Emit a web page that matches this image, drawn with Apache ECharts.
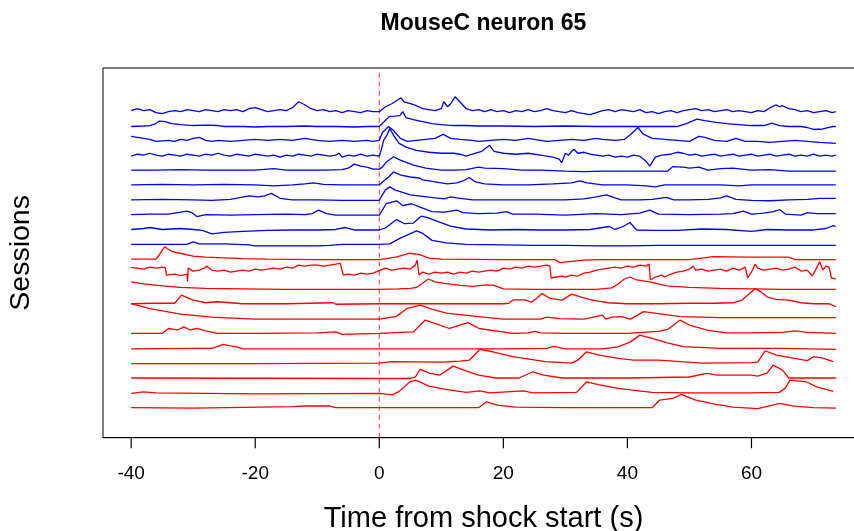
<!DOCTYPE html>
<html><head><meta charset="utf-8">
<script src="https://cdn.jsdelivr.net/npm/echarts@6/dist/echarts.min.js"></script>
<style>html,body{margin:0;padding:0;background:#fff}#c{width:854px;height:531px}</style>
</head><body><div id="c"></div>
<script>
// Tick labels on the time axis
const tickValues = [-40, -20, 0, 20, 40, 60];
const shockTime = 0;
const xMin = -44.54, xMax = 78.14;
const yMin = 0, yMax = 373.4;
const bottomBaseline = 30.3;

// Sessions (top to bottom). Each point: [time (s), activity above session baseline]
const blue01 = [[-40,0],[-39,2],[-38,0],[-37,1],[-36,-2],[-35,-3],[-34,-1],[-33,0],[-32,-1],[-31,1],[-30,0],[-29,-1],[-28,1],[-27,0],[-26,-1],[-25,1],[-24,0],[-23,1],[-22,-1],[-21,2],[-20,3],[-19,1],[-18,-1],[-17,0],[-16,1],[-15,0],[-14,3],[-13,9],[-12,6],[-11,2],[-10,0],[-9,1],[-8,-1],[-7,0],[-6,-2],[-5,0],[-4,-1],[-3,-2],[-2,0],[-1,-1],[0,-1],[1,4],[2,7],[3,11],[3.5,13],[4,9],[5,7],[6,5],[7,2],[8,1],[9,0],[10,2],[10.4,9],[11,4],[11.5,7],[12.2,14],[13,9],[14,2],[15,0],[16,1],[17,-1],[18,1],[19,-1],[20,0],[21,-2],[22,0],[23,-1],[24,1],[25,-1],[26,0],[27,2],[28,0],[29,-1],[30,-2],[31,0],[32,-2],[33,-3],[34,-4],[35,-2],[36,0],[37,1],[38,-1],[39,1],[40,0],[41,-1],[42,1],[43,-2],[44,-1],[45,-3],[46,-1],[47,0],[48,-2],[49,0],[50,1],[51,2],[52,0],[53,1],[54,-1],[55,0],[56,1],[57,-1],[58,0],[59,-1],[60,-2],[61,0],[62,-1],[63,3],[64,6],[64.5,4],[65,5],[66,2],[67,1],[68,-1],[69,0],[70,-2],[71,-1],[72,0],[73,-2],[73.6,-1]];
const blue02 = [[-40,-1],[-38,-0.5],[-37,0],[-36,2],[-35.5,4.5],[-34.5,4],[-33.5,2],[-32,1],[-30,0],[-28,0.5],[-26,0],[-25,-1],[-22,-1],[-20,-1.5],[-18,-1],[-15,-1],[-12,-0.5],[-10,-1],[-7,-1],[-4,-1.5],[-2,-1],[0,-1],[0.8,4],[1.6,9],[2.5,9.5],[3.3,10],[3.8,14],[4.3,8],[5.5,6],[7,4],[8.5,2],[10,1],[12,0],[14,0],[16,-0.5],[20,-0.5],[25,-1],[30,-0.5],[35,-1],[40,-1],[45,-1],[48,-1],[49.5,2],[51.2,6.5],[52.5,5],[54,3.5],[56,2],[58,1],[60,0],[62,0],[63.3,2.5],[64.5,0],[66,-1],[68,-1],[69,-2],[70,-4],[71.5,-3.5],[73,-1],[73.6,-1]];
const blue03 = [[-40,4],[-39,3],[-38,2],[-37,1],[-36,-1],[-34,0],[-33,-1],[-32,1],[-31,0],[-30,2],[-29,3],[-28,0],[-27,-1],[-26,0],[-24,-1],[-22,0],[-20,1],[-18,0],[-16,1],[-14,0],[-12,2],[-11,1],[-10,0],[-8,-1],[-6,0],[-4,-1],[-2,0],[-1,-1],[0,0],[0.5,8],[1.5,14],[2.3,10],[3.4,2],[4.5,-1],[6,0],[7.5,1],[9,2],[10.3,6],[11.5,2],[13,1],[15,0],[16,-1],[18,0],[20,1],[22,0],[24,2],[25,1],[27,-1],[29,0],[31,1],[33,0],[35,2],[36,1],[38,0],[39.5,1],[40.5,6],[41.7,13],[42.5,6.5],[44,2],[46,1],[48,0],[50,-1],[51.5,4],[52.5,3],[54,0],[56,-1],[57.5,2],[59,-1],[61,-1],[63,-2],[65,-1],[67,0],[69,-1],[71,-2],[73.6,-3]];
const blue04 = [[-40,-1],[-39,1],[-38,0],[-37,2],[-36,0],[-35,-1],[-34,1],[-33,0],[-32,-1],[-31,1],[-30,0],[-29,-1],[-28,1],[-27,0],[-26,2],[-25,0],[-24,-1],[-23,1],[-22,0],[-21,-1],[-20,1],[-19,0],[-18,-1],[-17,0],[-16,-2],[-15,0],[-14,-1],[-13,1],[-12,0],[-11,-1],[-10,1],[-9,0],[-8,-1],[-7,0],[-6.5,2],[-6,-2],[-5,0],[-4,-1],[-3,1],[-2,-1],[-1,0],[0,-1],[0.3,5],[0.7,15],[1.2,20],[1.7,27],[2.3,20],[3.2,12],[4.4,8],[6,5],[8,3],[10,2],[12,2],[13,1],[14,-1],[15,1],[16.5,4],[17.8,10],[18.5,4],[20,2],[22,1],[24,2],[26,0],[27,-1],[28,-2],[29,-4],[29.4,-7.5],[30,2],[30.5,0],[31,4],[31.4,6],[32,2],[33,3],[34,1],[35,0],[36,-1],[37,0],[38,-2],[39,-1],[40,-2],[41,0],[42,-1],[43,-6],[43.6,-11],[44.5,-2],[45.5,0],[47,1],[48,3],[49,2],[50,0],[51,1],[52,-1],[53,0],[54,1],[55,-1],[56,0],[57,1],[58,-1],[59,0],[60,1],[61,-1],[62,0],[63,1],[64,-1],[65,0],[66,1],[67,-1],[68,0],[69,-1],[70,1],[71,-1],[72,0],[73,-1],[73.6,0]];
const blue05 = [[-40,0],[-36,0],[-32,0.5],[-28,0],[-24,0],[-20,0],[-18,1],[-17,1.5],[-15,0],[-12,0],[-9,0],[-6,0.5],[-5,2],[-4,6],[-3,4],[-2,3],[-1,1],[0,1],[0.5,3],[1.1,8],[2.3,13.5],[3.4,10],[5.5,5],[7.5,2],[10,0],[12,0],[14,0.5],[16,3],[17,2],[20,1.5],[23,0],[26,0],[30,-1],[33,-1.5],[36,-1],[38,-1],[42,-1],[45,-1],[46.5,-1],[47.3,3.5],[49,3],[50,2],[51.5,3],[53,0],[55,1.5],[57,2],[60,0],[63,0.5],[66,-1],[70,-1],[73.6,-1]];
const blue06 = [[-40,0],[-35,0.5],[-30,0],[-25,0.5],[-20,0],[-17,-1],[-14,0],[-12,1],[-10.6,2],[-9,0.5],[-6,0],[-3,0],[-1,0],[0,0],[0.7,4],[1.5,8],[2.3,13],[3.5,10],[5,8],[6.5,7],[7,5],[9,3],[11,1],[12.5,2],[13.5,4],[14.5,7.5],[15.5,3],[17,1],[20,0],[24,0],[28,1],[31,2],[32.3,4],[33.5,2],[36,0],[40,0],[43,-1],[44.5,-2],[46,0],[50,0],[55,0],[58,-1],[60,0],[65,0],[70,0],[73.6,0]];
const blue07 = [[-40,0],[-35,0.5],[-30,0],[-27,-0.5],[-24,0.5],[-21,4],[-19.5,3],[-18.5,4],[-17.4,6.5],[-16,1.5],[-14,0],[-10,0],[-6,-0.5],[-2,-0.5],[0,-0.5],[0.5,5],[1,10],[1.7,13],[2.5,10],[3.5,8],[5,5],[7,3.5],[9,2],[10.5,1],[11.5,3],[12.5,2],[15,0],[20,0],[25,0],[30,0],[33,1],[35,3],[36.6,5],[38,2],[39,0],[42,0],[44,0.5],[46.3,2.5],[47.5,0],[50,0],[53,0.5],[55,2],[56,4],[57.5,0.5],[60,-0.5],[63,-1],[66,0],[69,0.5],[71,1.5],[73.6,1.5]];
const blue08 = [[-40,0],[-37,0.5],[-34,0.5],[-31,3.5],[-30.2,2],[-29.4,-2],[-28,0],[-24,-0.5],[-20,0],[-15,0.5],[-12,0],[-10.8,1],[-9.8,4.5],[-8.5,1],[-7,-0.5],[-3,-0.5],[0,-0.5],[0.5,4.5],[1.1,11],[2.8,14],[3.8,9],[5.2,11],[7,6.5],[8.5,3],[10.5,2.5],[12.5,4.5],[13.5,2],[16,1],[19,1.5],[20.5,3],[21.5,0.5],[25,0.5],[30,-0.5],[35,1],[39,0],[42,1.5],[43.6,4.5],[45,0.5],[50,0],[55,0.5],[57,1],[58.7,3.5],[60,0.5],[62,1.5],[63.5,3],[64.6,5],[65.5,0.5],[68,-0.5],[69,2],[70.5,1],[73.6,1]];
const blue09 = [[-40,0],[-38,1],[-37,2],[-35,0],[-32,1],[-30,0],[-28.5,-1],[-27,-4.5],[-25,-3],[-22,-2],[-18,-1],[-14,-0.5],[-10,-0.5],[-7,0],[-5.5,2],[-4,-0.5],[0,-0.5],[1,1.5],[1.5,4],[2.8,10],[4,6],[5.5,6.5],[6.8,13.5],[7.8,12],[9.5,8],[11.5,3.5],[14,0.5],[18,-0.5],[22,0],[26,-0.5],[30,-0.5],[34,0],[36,2],[37.1,3],[38,0],[39.3,3],[40.4,7],[41.5,-0.5],[44,-1],[48,-1],[52,0.5],[56,0],[60,-2],[62.5,0],[66,-0.5],[70,-0.5],[72,1],[73.2,4],[73.6,3]];
const blue10 = [[-40,0],[-35,0],[-31,0],[-30,2.5],[-29,0.5],[-25,0.5],[-21,-0.5],[-20,-1.5],[-15,-1.5],[-10,-1.5],[-8,-1],[-6,0],[-3,0],[0,0],[1.7,0.5],[3.3,6],[6,13.5],[7,11],[8.5,4],[10.8,1.5],[14,0],[20,-0.5],[25,-1],[30,-1],[35,-1.5],[40,-1.5],[45,-1],[50,-1],[55,-1],[60,-1],[65,-1],[70,-1],[73.6,-1]];
const red01 = [[-40,0],[-36,0],[-35.5,4],[-34.6,12.5],[-33.5,8],[-32.5,6.5],[-30,3],[-28,2],[-26,1.5],[-22,0.5],[-18,0],[-10,-0.5],[0,-0.5],[2.7,2],[4.9,6],[6.5,4.5],[8,1],[10,0],[20,-0.5],[28.3,-0.5],[29.1,-3.5],[33,-1],[36,-0.5],[40,-0.5],[50,-0.5],[52,1],[53.8,2.5],[60,2],[66,2],[67,-0.5],[73.6,-0.5]];
const red02 = [[-40,6.7],[-38,5],[-37,7],[-36,6],[-35,7],[-34.5,6.5],[-34.3,-1],[-33,0],[-32,-1.5],[-31,0],[-30.9,-7.5],[-30.8,6],[-30,3],[-29,4],[-28.2,6],[-27.8,8],[-27,4],[-26,3],[-25,4],[-24,2],[-23,3],[-22,4],[-21,3],[-20,5],[-19,4],[-18,5],[-17,6],[-16,5],[-15,7],[-14,6],[-13,9],[-12,8],[-11,9],[-10,9],[-9,8],[-8,9],[-7,10],[-6.3,10.7],[-5.8,-1],[-5,0],[-4,-1],[-3,1],[-2,0],[-1,1],[0,3.5],[1,6],[2,4],[3,5],[4,6],[5,5],[5.8,9],[6.1,14],[6.4,-1],[7,2],[8,0],[9,2],[10,1],[11,2],[12,0],[13,2],[14,1],[15,3],[16,2],[17,3],[18,4],[19,3],[20,6],[21,5],[22,7],[23,6],[24,8],[25,7],[26,8],[27,9],[27.5,8],[27.7,-4],[28.5,-3],[29.5,-2],[30,-3],[31,-1],[32,-2],[33,1],[34,2],[35,4],[36,5],[37,6],[38,7],[39,6],[40,8],[41,7],[42,9],[43,8],[43.5,10],[43.7,-6],[44.5,-3],[45.5,-1],[46,-3],[47,0],[48,2],[49,3],[50,5],[50.6,8],[51,4],[52,5],[53,3],[54,4],[55,5],[56,3],[57,6],[58,4],[59,7],[59.2,8],[59.4,-4],[60,2],[60.6,10],[61,6],[62,4],[63,5],[64,6],[65,4],[66,5],[67,7],[68,3],[69,4],[69.8,-2],[70,-4],[70.4,5],[71,12.5],[71.5,4],[72,8],[72.5,7],[72.9,-4],[73.6,-5]];
const red03 = [[-40,7],[-38,5],[-35,3],[-32,1.5],[-28,0.5],[-22,0],[-15,-0.5],[-8,-0.5],[0,-0.5],[3,0],[5,0.5],[6,1.5],[7,6],[7.9,10],[9,7],[10.5,5.5],[13,3.5],[15,2.5],[17.3,4],[18.5,3.5],[20,0],[25,-0.5],[30,-0.5],[35,-0.5],[37.5,1],[38.5,5],[39.5,10],[40.4,12],[41.5,9],[43.6,7],[46.3,3],[50,1.5],[55,0.5],[60,0],[65,-0.5],[73.6,-0.5]];
const red04 = [[-40,0],[-36,0.5],[-33,0.5],[-32.5,4],[-31.9,8.7],[-30,3.7],[-28,1],[-26,2],[-24,1],[-22,0],[-15,0],[-7.5,1],[-7,-0.5],[0,0],[10,0],[20,0],[20.9,0.5],[21.6,4],[23.5,4],[24.5,1.5],[25.5,6],[26.2,10.5],[27.5,5.5],[29.5,3.7],[31,9.7],[33.5,5],[35,3],[37,1],[40,0],[45,0],[50,0.5],[54,0.5],[57,1],[58.5,3.7],[60.6,15.4],[61.5,12],[62.5,7],[64,4.5],[66,3.7],[68,1],[70,0],[72.5,0],[73.6,-3]];
const red05 = [[-40,15],[-37,10],[-32,4.5],[-27,1.5],[-20,-0.5],[-10,-0.5],[0,-0.5],[1.5,1],[2.7,2],[4.4,10],[6.6,13.5],[8.2,10],[10.8,5.5],[16,2],[20,-0.5],[26,-0.5],[27,1.5],[29,0],[33,-0.5],[36,3.5],[36.5,-0.5],[37.5,1.5],[39,2],[40.5,-0.5],[42.6,7],[45,5],[48.5,2],[55,1],[60,1],[65,1],[73.6,1]];
const red06 = [[-40,0],[-35,0],[-34,5],[-32.5,3.5],[-31.5,6.7],[-30.5,3.5],[-29.4,5],[-28,2.5],[-26,0],[-20,0],[-10,0.5],[-7,1.5],[-6,-1],[0,0],[5.5,1.5],[7.4,13.5],[9.8,8.5],[11.3,5],[14.3,11],[16.1,5],[21.5,0],[24,0.5],[25,2],[26,0.5],[30,0],[35,0],[40,0],[45,2],[46.5,4],[48.5,13.5],[50,8.5],[53,3],[56,0.5],[60,0.5],[65,1],[67,2.5],[69,1],[73.6,0]];
const red07 = [[-40,-0.5],[-30,0],[-27,0],[-26,2],[-25.2,4],[-24,2.5],[-23,1.5],[-22,-0.5],[-10,-0.5],[0,-0.5],[10,-0.5],[20,-0.5],[27,0],[28.1,2],[30,-0.5],[36,-0.5],[38.5,1.5],[40.5,6.5],[42,13.3],[44,10],[46.3,5.7],[49,1.7],[55,0],[65,0],[73.6,-1]];
const red08 = [[-40,-0.5],[-20,-0.5],[0,0],[2,1.5],[10,1],[13,2],[14.5,3],[16.2,13.8],[18.3,11.5],[21.5,6.5],[26.8,1.5],[31,0],[32,3],[33.4,11.5],[35.5,8],[38.6,4.8],[41,3],[45,3],[52,0],[60,0.5],[61,1],[62.2,12.5],[64,8],[69,2.5],[70,6.5],[71.5,5],[73.2,1.5]];
const red09 = [[-40,0],[0,-0.5],[5,-0.5],[5.8,1],[6.6,8.7],[8.2,4.7],[9.8,3],[11.9,12],[14,7.3],[16,3],[18.8,0],[22.5,0],[24.8,6.3],[26.5,3],[29.5,0],[40,0],[50,1],[52.8,4.7],[54.5,3],[60,3],[61,2],[62.5,5],[63.5,13],[65,8],[66,0],[73.6,0]];
const red10 = [[-40,-0.5],[-38,1],[-36,0],[-20,-1],[0,-0.5],[2.1,-2],[3.2,1.5],[4.9,11],[5.9,12.8],[8,6.8],[10.7,3.5],[14,0.5],[16.2,2],[17.8,0],[23.2,2],[24.8,0],[31.8,0.5],[33.4,11],[35.5,8],[38.6,4.5],[40.5,3],[44,0.5],[50,0],[60,0],[64.5,0.5],[65.5,5],[66.2,12.8],[68.9,11],[70.5,6],[73.2,1.5]];
const red11 = [[-40,0],[-30,-0.5],[-14,1],[-12,1.7],[-8,1.7],[-7,0],[0,0],[16,0],[17.3,6],[19,2.7],[22,0.5],[30,0],[44,0],[45.2,7.7],[47.3,9.4],[48.7,13.4],[51,7.7],[54.3,3.4],[57,0.5],[61,-1],[64.6,4.3],[66.8,1.5],[70,0],[73.6,-0.5]];

const blueSessions = [blue01, blue02, blue03, blue04, blue05, blue06, blue07, blue08, blue09, blue10];
const redSessions = [red01, red02, red03, red04, red05, red06, red07, red08, red09, red10, red11];
const sessionSpacing = 15;

const allSessions = blueSessions.map(d => ({d, c: '#0000ff'}))
  .concat(redSessions.map(d => ({d, c: '#ff0000'})));
const nS = allSessions.length;

const series = allSessions.map((s, i) => {
  const offset = bottomBaseline + (nS - 1 - i) * sessionSpacing;
  return {
    type: 'line',
    data: s.d.map(p => [p[0], p[1] + offset]),
    showSymbol: false,
    symbol: 'none',
    silent: true,
    animation: false,
    color: s.c,
    lineStyle: {color: s.c, width: 1.3},
    z: 2
  };
});
// Shock onset marker: vertical dashed line at shockTime spanning the plot
series.push({
  type: 'line',
  data: [[shockTime, yMin], [shockTime, yMax]],
  showSymbol: false, symbol: 'none', silent: true, animation: false,
  color: '#ff0000',
  lineStyle: {color: '#ff3030', width: 1, type: [5, 4]},
  z: 1
});
// Outward tick marks under the box: thin rect symbols hanging below the axis
series.push({
  type: 'scatter',
  data: tickValues.map(v => [v, yMin]),
  symbol: 'rect',
  symbolSize: [1.2, 10.5],
  symbolOffset: [0, 5.25],
  itemStyle: {color: '#000', opacity: 1},
  clip: false, silent: true, animation: false, z: 10
});

const chart = echarts.init(document.getElementById('c'), null, {renderer: 'canvas'});
chart.setOption({
  animation: false,
  backgroundColor: '#ffffff',
  textStyle: {fontFamily: 'Liberation Sans, Arial, sans-serif'},
  title: {
    text: 'MouseC neuron 65',
    left: 483.5, top: 12, textAlign: 'center', padding: 0,
    textStyle: {fontSize: 23, fontWeight: 'bold', color: '#000', fontFamily: 'Liberation Sans'}
  },
  grid: {left: 103, top: 68, width: 761, height: 369.7, outerBoundsMode: 'none', containLabel: false,
         show: true, borderColor: '#000', borderWidth: 1, backgroundColor: 'transparent'},
  xAxis: {
    type: 'value', min: xMin, max: xMax, position: 'bottom',
    name: 'Time from shock start (s)', nameLocation: 'middle', nameGap: 67,
    nameTextStyle: {fontSize: 29, color: '#000', fontFamily: 'Liberation Sans'},
    axisLine: {show: true, lineStyle: {color: '#000', width: 1}},
    axisTick: {show: false},
    axisLabel: {fontSize: 19, color: '#000', margin: 27, customValues: tickValues, fontFamily: 'Liberation Sans'},
    splitLine: {show: false}
  },
  yAxis: {
    type: 'value', min: yMin, max: yMax,
    name: 'Sessions', nameLocation: 'middle', nameGap: 67, nameRotate: 90,
    nameTextStyle: {fontSize: 28.5, color: '#000', fontFamily: 'Liberation Sans'},
    axisLine: {show: false}, axisTick: {show: false}, axisLabel: {show: false}, splitLine: {show: false}
  },
  series: series
});
</script></body></html>
